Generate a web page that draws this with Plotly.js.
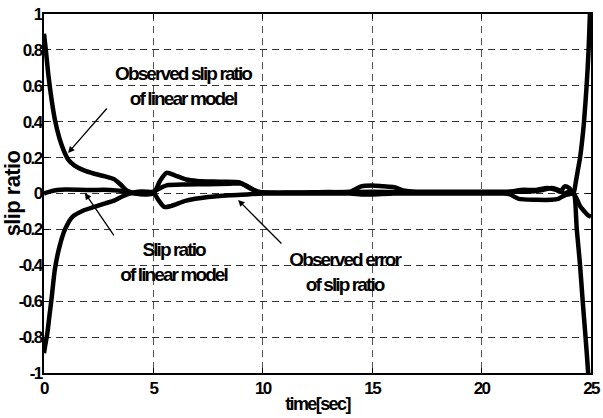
<!DOCTYPE html>
<html>
<head>
<meta charset="utf-8">
<script src="https://cdn.plot.ly/plotly-3.0.1.min.js"></script>
<style>
html,body{margin:0;padding:0;background:#fff;}
#chart{width:603px;height:418px;}
.main-svg .xtick text, .main-svg .ytick text{letter-spacing:-1.6px;}
.main-svg .annotation-text{letter-spacing:-1.9px;}
.main-svg .g-xtitle text{letter-spacing:-1.6px;}
.main-svg .g-ytitle text{letter-spacing:-0.6px;}
</style>
</head>
<body>
<div id="chart"></div>
<script>
// Observed slip ratio of linear model
const tObs = [0,0.1,0.2,0.35,0.5,0.7,0.9,1.1,1.4,1.8,2.3,2.8,3.2,3.5,3.8,4.2,4.6,5.0,5.3,5.6,6.0,6.5,7.0,8.0,8.9,9.3,9.7,10,11,12,13,14,14.5,15,15.5,16,16.5,17,18,19,20,21,21.3,21.8,22.5,23,23.4,23.6,23.8,24.0,24.2,24.3,24.4,24.5,24.6,24.68,24.8,24.89,24.95,25];
const obs  = [0.89,0.78,0.66,0.52,0.41,0.31,0.24,0.19,0.155,0.13,0.11,0.095,0.08,0.05,0.015,0.0,-0.005,0.0,0.07,0.115,0.1,0.078,0.07,0.066,0.063,0.04,0.01,0.005,0.005,0.005,0.008,0.01,0.04,0.045,0.04,0.035,0.015,0.01,0.01,0.01,0.01,0.01,0.01,0.02,0.02,0.03,0.02,0.01,0.04,0.03,0.0,0.06,0.13,0.2,0.3,0.4,0.6,0.8,1.0,1.2];

// Observed error of slip ratio
const tErr = [0,0.05,0.15,0.25,0.35,0.5,0.7,0.96,1.3,1.8,2.3,2.8,3.2,3.6,3.9,4.3,4.7,5.0,5.25,5.5,5.8,6.5,7.5,8.5,9.3,10,12,14,14.5,15,16,18,20,21,21.3,21.7,22.5,23.2,23.5,23.8,24.0,24.2,24.35,24.5,24.62,24.75,24.87,24.95];
const err  = [-0.89,-0.85,-0.78,-0.68,-0.58,-0.42,-0.3,-0.2,-0.13,-0.095,-0.075,-0.055,-0.04,-0.015,0.0,0.01,0.01,0.005,-0.04,-0.075,-0.07,-0.04,-0.02,-0.01,-0.005,0.0,0.0,0.0,-0.005,-0.005,0.0,0.0,0.0,0.0,-0.005,-0.03,-0.035,-0.035,-0.03,-0.01,-0.005,0.0,-0.2,-0.4,-0.6,-0.8,-1.0,-1.2];

// Slip ratio of linear model
const tSlp = [0,0.3,0.6,1,2,3,3.5,3.8,4.2,4.6,5.0,5.3,5.6,6.5,7.5,8.5,9.0,9.4,9.8,10.2,12,14,15,16,18,20,21,21.3,22,22.8,23.2,23.5,23.8,24.0,24.2,24.35,24.5,24.7,24.85,25];
const slp  = [0.0,0.012,0.02,0.022,0.02,0.02,0.015,0.005,0.0,0.0,0.01,0.03,0.045,0.05,0.052,0.055,0.055,0.03,0.01,0.005,0.005,0.008,0.01,0.008,0.005,0.005,0.005,0.01,0.01,0.02,0.03,0.02,0.0,0.01,0.0,-0.03,-0.07,-0.1,-0.12,-0.13];

const xTicks = [0,5,10,15,20,25];
const yTicks = [-1,-0.8,-0.6,-0.4,-0.2,0,0.2,0.4,0.6,0.8,1];
const yTickText = ['-1','-0.8','-0.6','-0.4','-0.2','0','0.2','0.4','0.6','0.8','1'];

const lineStyle = {color:'#000', width:4.5, shape:'spline', smoothing:0.7};
const traces = [
  {x:tSlp, y:slp, mode:'lines', line:lineStyle, name:'Slip ratio of linear model'},
  {x:tObs, y:obs, mode:'lines', line:lineStyle, name:'Observed slip ratio of linear model'},
  {x:tErr, y:err, mode:'lines', line:lineStyle, name:'Observed error of slip ratio'}
];

const fontFam = '"Liberation Sans", Arial, sans-serif';
const annFont = {family:fontFam, size:19, color:'#000', weight:'bold'};
const annotations = [
  {x:6.35, y:0.60, xref:'x', yref:'y', text:'Observed slip ratio<br>of linear model', showarrow:false, font:annFont},
  {x:5.9, y:-0.384, xref:'x', yref:'y', text:'Slip ratio<br>of linear model', showarrow:false, font:annFont},
  {x:13.76, y:-0.44, xref:'x', yref:'y', text:'Observed error<br>of slip ratio', showarrow:false, font:annFont},
  {x:1.10, y:0.226, ax:2.93, ay:0.482, axref:'x', ayref:'y', xref:'x', yref:'y', text:'', showarrow:true, arrowhead:2, arrowsize:1, arrowwidth:1.3, arrowcolor:'#000'},
  {x:1.87, y:0.003, ax:3.24, ay:-0.242, axref:'x', ayref:'y', xref:'x', yref:'y', text:'', showarrow:true, arrowhead:2, arrowsize:1, arrowwidth:1.3, arrowcolor:'#000'},
  {x:8.87, y:-0.036, ax:10.92, ay:-0.287, axref:'x', ayref:'y', xref:'x', yref:'y', text:'', showarrow:true, arrowhead:2, arrowsize:1, arrowwidth:1.3, arrowcolor:'#000'}
];

const layout = {
  width:603, height:418,
  margin:{l:44, r:12, t:14, b:45},
  paper_bgcolor:'#fff', plot_bgcolor:'#fff',
  showlegend:false,
  font:{family:fontFam, size:17, color:'#000', weight:'bold'},
  xaxis:{
    range:[0,25], tickvals:xTicks, ticktext:xTicks.map(String),
    showline:true, linecolor:'#000', linewidth:2, mirror:'ticks',
    ticks:'inside', ticklen:5, tickcolor:'#000', tickwidth:1,
    showgrid:true, gridcolor:'#555', griddash:'7px,5px', gridwidth:1,
    zeroline:false, ticklabelstandoff:-1,
    tickfont:{family:fontFam, size:17, weight:'bold'},
    title:{text:'time[sec]', font:{family:fontFam, size:18, weight:'bold'}, standoff:0}
  },
  yaxis:{
    range:[-1,1], tickvals:yTicks, ticktext:yTickText,
    showline:true, linecolor:'#000', linewidth:2, mirror:'ticks',
    ticks:'inside', ticklen:5, tickcolor:'#000', tickwidth:1,
    showgrid:true, gridcolor:'#333', griddash:'7px,5px', gridwidth:1,
    zeroline:false, ticklabelstandoff:-3,
    tickfont:{family:fontFam, size:17, weight:'bold'},
    title:{text:'slip ratio', font:{family:fontFam, size:22, weight:'bold'}, standoff:0}
  },
  annotations:annotations
};

Plotly.newPlot('chart', traces, layout, {staticPlot:true, displayModeBar:false});
</script>
</body>
</html>
